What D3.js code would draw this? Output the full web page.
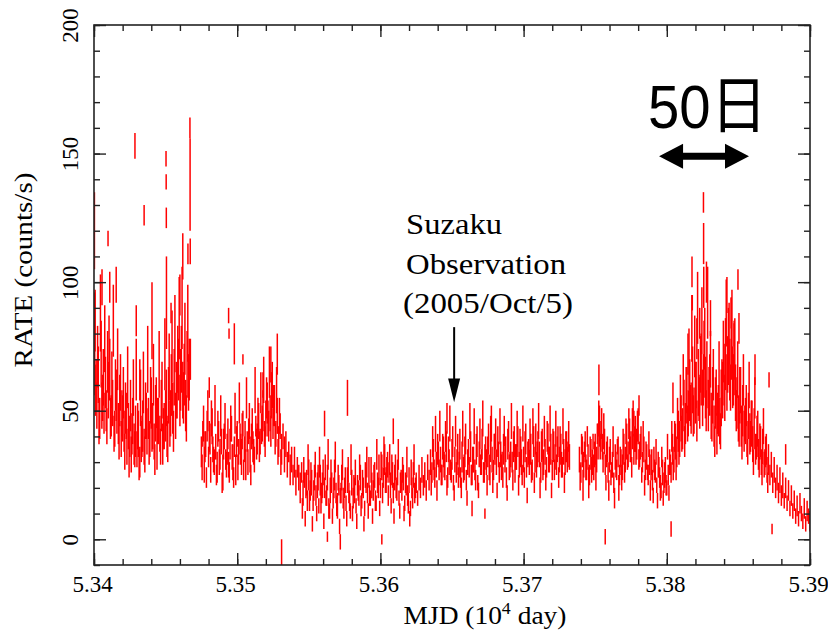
<!DOCTYPE html>
<html>
<head>
<meta charset="utf-8">
<script src="https://cdn.jsdelivr.net/npm/d3@7"></script>
<style>
  body { margin: 0; background: #fff; }
  text { font-family: 'Liberation Serif', 'Times New Roman', Times, serif; fill: #000; }
</style>
</head>
<body>
<div id="chart"></div>
<script>
// Data____________________________________________________________
// light curve, one value per day, three continuous stretches (start MJD)
const segStart = [53400, 53475, 53739];

const rateA = [68,58,52,64,47,72,55,49,61,44, 58,66,48,53,41,60,50,45,54,39,
  47,42,51,36,44,40,33,46,37,42, 35,41,30,38,44,36,50,42,47,39,
  53,44,38,49,35,46,41,52,37,44, 48,40,56,45,60,51,63,48,57,66,
  54,70,58,64,52,68,61];
const errA = [12,10,9,11,8,13,9,8,10,7, 11,12,8,9,7,10,9,8,10,7,
  9,8,10,7,9,8,7,9,8,10, 7,9,6,8,10,7,11,9,8,7,
  10,9,7,11,8,9,7,10,8,9, 10,8,11,9,12,10,11,9,10,12,
  10,13,11,12,10,13,11];

const rateB = [34,41,29,37,44,32,39,47,35,30, 36,28,42,33,38,26,40,31,35,29,
  37,43,30,36,27,41,34,39,32,45, 35,29,38,42,33,40,36,31,44,39,
  46,38,43,50,41,47,53,44,49,56, 45,52,41,48,38,44,35,40,33,37,
  29,34,27,31,25,30,22,28,24,20, 26,18,23,21,15,25,19,22,14,24,
  17,21,13,23,18,26,20,16,24,12, 19,22,15,25,18,13,21,17,24,16,
  20,14,23,18,11,22,16,19,13,21, 17,24,15,20,12,23,18,26,16,21,
  19,25,14,22,27,20,28,24,31,23, 29,26,21,27,18,24,20,26,16,22,
  19,24,14,21,17,23,12,20,25,18, 22,16,24,20,27,21,25,19,28,23,
  30,26,33,24,29,35,27,31,25,34, 28,36,24,30,27,33,22,31,26,35,
  29,24,32,27,34,23,30,28,36,25, 31,27,35,22,33,29,37,26,32,30,
  34,28,36,31,27,35,30,38,26,33, 29,35,31,24,37,28,33,30,36,27,
  32,38,29,34,25,31,36,28,33,30, 35,27,38,31,29,36,33,26,37,30,
  34,28,39,31,35,27,36,32,29,38, 31,35,28,34,30,36,33,32];
const errB = [6,5,7,5,6,4,6,7,5,5, 5,6,4,6,5,7,5,4,6,5,
  6,5,7,4,6,5,5,6,7,5, 5,6,4,5,7,5,6,5,4,6,
  7,5,6,8,5,7,8,6,7,9, 6,8,5,7,6,5,6,5,7,5,
  5,4,6,5,4,6,5,4,5,6, 4,5,3,5,4,6,4,5,3,5,
  4,5,3,6,4,5,4,3,5,4, 5,4,3,6,4,5,4,3,5,4,
  4,3,5,4,3,5,4,5,3,4, 4,5,3,4,3,5,4,6,3,5,
  4,5,3,4,6,4,5,4,6,5, 5,4,5,6,4,5,4,5,3,4,
  4,5,3,4,4,5,3,4,5,4, 4,3,5,4,5,4,5,4,5,4,
  5,4,6,4,5,6,4,5,4,6, 5,6,4,5,4,6,3,5,4,6,
  5,4,6,5,6,4,5,4,6,4, 5,4,6,3,5,4,6,4,5,5,
  6,5,6,5,4,6,5,6,4,5, 5,6,5,4,6,5,5,4,6,5,
  5,6,5,6,4,5,6,4,5,5, 6,4,6,5,5,6,5,4,6,5,
  5,4,6,5,6,4,6,5,4,6, 5,6,4,5,5,6,5,5];

const rateC = [31,26,34,29,36,27,32,25,33,30, 28,35,31,38,44,40,36,42,29,33,
  26,31,24,29,22,32,27,34,25,30, 28,35,31,38,33,40,36,43,35,41,
  37,44,33,38,30,35,27,32,25,30, 28,23,31,26,21,29,24,19,26,22,
  27,20,25,30,26,35,31,38,34,42, 39,47,43,52,45,56,49,58,51,62,
  50,57,46,61,53,66,55,70,59,64, 52,60,48,56,44,53,41,50,46,55,
  58,64,72,61,75,66,78,63,70,57, 53,47,56,44,50,42,46,39,48,41,
  45,37,43,35,40,33,38,30,36,29, 34,27,31,25,29,22,27,20,24,18,
  23,17,21,15,20,14,19,12,17,11, 15,9,13,8,14,10,7,12,6,11,
  9,7];
const errC = [5,4,6,5,6,4,5,4,6,5, 5,6,5,7,8,6,5,7,4,5,
  4,5,3,5,4,5,4,6,4,5, 5,6,5,7,5,7,6,8,6,7,
  6,7,5,6,4,5,4,5,4,5, 5,4,5,4,3,5,4,3,5,4,
  5,3,4,5,4,6,5,7,6,8, 7,9,8,10,8,11,9,12,10,13,
  9,12,8,13,10,14,11,15,12,13, 10,12,9,11,8,10,8,10,9,11,
  11,12,14,11,15,12,16,12,14,11, 10,9,11,8,10,8,9,7,9,8,
  9,7,8,6,8,6,7,5,7,5, 6,5,6,4,5,4,5,4,5,4,
  5,4,5,3,4,3,4,3,4,3, 4,3,4,3,4,3,3,4,3,4,
  3,4];

// extra half-day dwells (start MJD of each run)
const seg2Start = [53400.5, 53475.5, 53545.5, 53635.5, 53739.5, 53805.5];

const rateA2 = [82,60,71,45,88,52,63,78,50,69, 74,47,62,85,43,56,70,38,61,49,
  57,34,48,63,30,52,41,59,35,66, 44,29,55,40,61,33,48,70,37,56,
  42,64,31,53,46,68,36,58,43,72, 55,38,67,49,75,42,80,58,70,86,
  62,90,55,78,47,84,66];
const errA2 = [14,10,12,8,15,9,11,13,8,12, 13,8,11,14,7,10,12,7,11,9,
  10,7,9,12,6,10,8,11,7,12, 9,6,11,8,12,7,9,13,8,11,
  8,12,6,10,9,13,7,11,8,14, 11,8,13,9,14,8,15,11,13,16,
  12,16,10,14,9,15,12];

const rateB2 = [28,45,36,24,50,40,27,44,31,52, 25,43,30,48,22,37,46,29,41,26,
  45,32,24,49,38,28,53,35,42,27, 40,55,30,46,25,44,34,58,37,48,
  36,57,45,62,38,55,47,65,42,60, 52,39,58,34,48,30];
const errB2 = [5,7,6,4,8,6,5,7,5,8, 4,7,5,8,4,6,7,5,6,4,
  7,5,4,8,6,5,8,6,7,4, 6,8,5,7,4,7,5,9,6,7,
  6,8,7,9,6,8,7,10,6,9, 8,6,9,5,7,5];

const rateB4 = [12,27,8,22,31,15,25,6,19,29, 10,24,30,14,21,7,28,17,33,11,
  26,9,20,32,13,24,5,18,29,12, 23,8,27,15,31,10,21,26,7,19,
  28,13,22,6,25,30,11,17,27,9, 24,15,33,20,12,29,18,34,22,27,
  17,31,13,25,9,28,19,33,11,23, 27,10,22,30,14,8,26,16,31,20];
const errB4 = [4,5,3,5,6,4,5,3,4,5, 3,5,6,4,5,3,5,4,6,3,
  5,3,4,6,4,5,3,4,6,4, 5,3,5,4,6,3,4,5,3,4,
  5,4,5,3,5,6,3,4,5,3, 5,4,6,4,3,5,4,6,4,5,
  4,6,3,5,3,5,4,6,3,4, 5,3,4,6,4,3,5,4,6,4];

const rateB3 = [22,38,27,41,19,33,44,25,36,29, 40,21,35,45,26,38,18,42,30,24,
  37,20,43,28,39,16,34,46,25,31, 44,23,38,19,41,30,47,26,35,21,
  39,25,45,22,36,41,19,33,44,28, 24,42,35,18,40,29,46,23,38,32,
  43,21,37,30,45,24,39,17,34,41, 26,44,22,39,33,46,20,36,28,42,
  23,40,31,45,19,37,27,43,35,24, 38,29,44,22,36,31,40];
const errB3 = [5,6,4,7,4,5,6,4,5,5, 6,4,5,7,4,6,3,6,5,4,
  6,4,7,5,6,3,5,7,4,5, 7,4,6,3,6,5,7,4,5,4,
  6,4,7,4,5,6,3,5,7,5, 4,6,5,3,6,5,7,4,6,5,
  7,4,6,5,7,4,6,3,5,6, 4,7,4,6,5,7,4,6,5,6,
  4,6,5,7,3,6,4,7,5,4, 6,5,7,4,6,5,6];

const rateC3 = [24,37,21,35,28,40,22,36,27,38, 33,25,41,47,36,45,30,38,22,35,
  19,34,27,38,16,29,36,20,32,24, 37,26,42,30,45,35,28,47,39,33,
  44,31,36,25,40,21,33,26,37,19, 30,17,27,34,15,28,20,32,16,25,
  21,36,18,29,40,27];
const errC3 = [5,4,6,3,5,4,6,4,5,3, 5,6,4,7,5,6,4,5,3,5,
  4,5,3,6,4,5,3,5,4,5, 6,4,5,3,6,5,4,7,5,4,
  6,4,5,3,6,4,5,3,5,4, 5,3,4,5,3,4,5,4,3,5,
  4,5,3,4,6,4];

const rateC2 = [40,28,47,35,55,41,62,38,58,45, 70,52,82,48,75,60,90,55,68,85,
  62,78,50,92,58,70,45,64,38,57, 49,66,42,60,73,55,88,68,80,59,
  84,62,74,50,66,43,58,37,62,45, 52,34,60,40,47,30,55,36,43,28,
  38,25,44,30,35,22];
const errC2 = [6,5,8,6,9,7,10,6,9,7, 12,8,13,8,12,9,14,9,11,13,
  10,12,8,14,9,11,7,10,6,9, 8,11,7,10,12,9,13,11,12,9,
  13,10,12,8,11,7,9,6,10,7, 8,5,9,6,7,5,8,5,7,4,
  6,4,7,5,6,4];

// isolated flares / outliers
const spikeMJD = [53400.3,53400.8,53405.6,53409.8,53411,53415.5,53428.6,53429.5,53432,53435,
  53440.5,53450.3,53450.4,53450.5,53450.6,53453.8,53460,53462,53465.6,53467,
  53467.1,53467.2,53467.3,53480.5,53494,53494.3,53498,53504,53518,53523.5,
  53528,53531,53561,53563,53572,53577,53601,53609,53646.5,53664,
  53673,53677,53752.6,53757,53777,53780.6,53803,53804.3,53814.8,53817.6,
  53817.8,53821,53823,53825.6,53825.7,53825.8,53827.7,53830.5,53842,53845,
  53847,53849.7,53850.4,53861.6,53871.4,53873.5,53883];
const spikeRate = [120,85,98,117,98,99,153,85,62,126,
  85,148,139,125,92,88,95,110,111,160,
  138,112,70,59,87,80,76,70,60,68,
  72,-5,45,1,-1,55,0,42,47,12,
  10,42,62,1,47,52,4,55,72,104,
  92,78,84,131,115,98,100,86,95,88,
  80,101,82,66,62,4,33];
const spikeErr = [15,12,7,3,6,7,5,6,8,4,
  15,3,3,4,18,4,8,9,4,4,
  18,5,8,4,3,2,8,2,5,7,
  8,5,5,2,3,7,2,5,6,3,
  2,6,6,3,3,4,3,6,8,6,
  3,8,6,4,8,8,8,7,7,6,
  5,4,6,6,3,2,4];

// axis ticks (in 10^4 day and counts/s)
const xMajor = [5.34, 5.35, 5.36, 5.37, 5.38, 5.39];
const yMajor = [0, 50, 100, 150, 200];

// Layout__________________________________________________________
const W = 828, H = 631;
const mLeft = 94, mRight = 810, mTop = 25, mBottom = 565;
const serif = "'Liberation Serif', 'Times New Roman', Times, serif";

const xScale = d3.scaleLinear().domain([5.34, 5.39]).range([mLeft, mRight]);
const yScale = d3.scaleLinear().domain([-10, 200]).range([mBottom, mTop]);

const xMinor = d3.range(534, 539.01, 0.2).map(d => d / 100);
const yMinor = d3.range(-10, 201, 10);

const svg = d3.select('#chart')
  .append('svg')
  .attr('width', W)
  .attr('height', H);

svg.append('rect').attr('width', W).attr('height', H).attr('fill', '#fff');

svg.append('clipPath').attr('id', 'plot-clip')
  .append('rect')
  .attr('x', mLeft).attr('y', mTop)
  .attr('width', mRight - mLeft).attr('height', mBottom - mTop);

// Points___________________________________________________________
let points = [];
[rateA, rateB, rateC].forEach((rates, s) => {
  const errs = [errA, errB, errC][s];
  rates.forEach((r, i) => points.push({ mjd: segStart[s] + i, rate: r, err: errs[i] }));
});
[rateA2, rateB2, rateB4, rateB3, rateC3, rateC2].forEach((rates, s) => {
  const errs = [errA2, errB2, errB4, errB3, errC3, errC2][s];
  rates.forEach((r, i) => points.push({ mjd: seg2Start[s] + i, rate: r, err: errs[i] }));
});
spikeMJD.forEach((m, i) => points.push({ mjd: m, rate: spikeRate[i], err: spikeErr[i] }));

svg.append('g')
  .attr('clip-path', 'url(#plot-clip)')
  .selectAll('line')
  .data(points)
  .enter()
  .append('line')
  .attr('x1', d => xScale(d.mjd / 1e4))
  .attr('x2', d => xScale(d.mjd / 1e4))
  .attr('y1', d => yScale(d.rate - d.err))
  .attr('y2', d => yScale(d.rate + d.err))
  .attr('stroke', '#ff0000')
  .attr('stroke-width', 1.5);

// Axes_____________________________________________________________
const axisColor = '#222';
function styleAxis(g) {
  g.select('.domain').remove();
  g.attr('font-family', serif).attr('font-size', 23);
  g.selectAll('line').attr('stroke', axisColor).attr('stroke-width', 1.4);
}

// bottom, with labels
svg.append('g')
  .attr('transform', `translate(0, ${mBottom})`)
  .call(d3.axisBottom(xScale).tickValues(xMajor).tickSize(-12).tickSizeOuter(0)
    .tickPadding(11).tickFormat(d3.format('.2f')))
  .call(styleAxis)
  .selectAll('text')
  .attr('dx', -2)
  .attr('font-family', serif)
  .style('font-family', serif)
  .style('font-size', '23px')
  .attr('fill', '#000');

svg.append('g')
  .attr('transform', `translate(0, ${mBottom})`)
  .call(d3.axisBottom(xScale).tickValues(xMinor).tickSize(-6).tickSizeOuter(0).tickFormat(''))
  .call(styleAxis);

// top
svg.append('g')
  .attr('transform', `translate(0, ${mTop})`)
  .call(d3.axisTop(xScale).tickValues(xMajor).tickSize(-12).tickSizeOuter(0).tickFormat(''))
  .call(styleAxis);
svg.append('g')
  .attr('transform', `translate(0, ${mTop})`)
  .call(d3.axisTop(xScale).tickValues(xMinor).tickSize(-6).tickSizeOuter(0).tickFormat(''))
  .call(styleAxis);

// left, rotated labels
svg.append('g')
  .attr('transform', `translate(${mLeft}, 0)`)
  .call(d3.axisLeft(yScale).tickValues(yMajor).tickSize(-12).tickSizeOuter(0))
  .call(styleAxis)
  .selectAll('text')
  .attr('transform', 'rotate(-90)')
  .attr('x', 0)
  .attr('y', -16)
  .attr('dy', 0)
  .attr('text-anchor', 'middle')
  .attr('font-family', serif)
  .style('font-family', serif)
  .style('font-size', '23px')
  .attr('fill', '#000');
svg.append('g')
  .attr('transform', `translate(${mLeft}, 0)`)
  .call(d3.axisLeft(yScale).tickValues(yMinor).tickSize(-6).tickSizeOuter(0).tickFormat(''))
  .call(styleAxis);

// right
svg.append('g')
  .attr('transform', `translate(${mRight}, 0)`)
  .call(d3.axisRight(yScale).tickValues(yMajor).tickSize(-12).tickSizeOuter(0).tickFormat(''))
  .call(styleAxis);
svg.append('g')
  .attr('transform', `translate(${mRight}, 0)`)
  .call(d3.axisRight(yScale).tickValues(yMinor).tickSize(-6).tickSizeOuter(0).tickFormat(''))
  .call(styleAxis);

// frame
svg.append('rect')
  .attr('x', mLeft).attr('y', mTop)
  .attr('width', mRight - mLeft).attr('height', mBottom - mTop)
  .attr('fill', 'none')
  .attr('stroke', axisColor)
  .attr('stroke-width', 1.6);

// Axis titles_______________________________________________________
const xTitle = svg.append('text')
  .attr('transform', 'translate(485, 624) scale(1.12, 1)')
  .attr('text-anchor', 'middle')
  .attr('font-family', serif)
  .style('font-size', '24.5px');
xTitle.append('tspan').text('MJD (10');
xTitle.append('tspan').text('4').attr('dy', -10).style('font-size', '16px');
xTitle.append('tspan').text(' day)').attr('dy', 10);

svg.append('text')
  .attr('transform', 'translate(32, 270) rotate(-90) scale(1.12, 1)')
  .attr('text-anchor', 'middle')
  .attr('font-family', serif)
  .style('font-size', '26px')
  .text('RATE (counts/s)');

// Annotations_______________________________________________________
const obsMJD = 53651.5;
const ax = xScale(obsMJD / 1e4);

const note = ['Suzaku', 'Observation', '(2005/Oct/5)'];
const noteWidth = [96, 160, 170];
svg.selectAll('.note')
  .data(note)
  .enter()
  .append('text')
  .attr('class', 'note')
  .attr('x', (d, i) => i === 2 ? 403 : 406)
  .attr('y', (d, i) => 234 + i * 39.5)
  .attr('textLength', (d, i) => noteWidth[i])
  .attr('lengthAdjust', 'spacingAndGlyphs')
  .attr('font-family', serif)
  .style('font-size', '29px')
  .text(d => d);

svg.append('line')
  .attr('x1', ax).attr('x2', ax)
  .attr('y1', yScale(82.5)).attr('y2', yScale(60))
  .attr('stroke', '#000').attr('stroke-width', 2);
svg.append('path')
  .attr('d', `M${ax - 6},${yScale(62.5)} L${ax + 6},${yScale(62.5)} L${ax},${yScale(53.3)} Z`)
  .attr('fill', '#000');

// 50-day scale bar
svg.append('text')
  .attr('x', 648).attr('y', 128)
  .attr('textLength', 119)
  .attr('lengthAdjust', 'spacingAndGlyphs')
  .style('font-family', "'Liberation Sans', 'Noto Sans CJK JP', sans-serif")
  .style('font-size', '62px')
  .text('50日');

const bx0 = xScale(53794.6 / 1e4), bx1 = xScale(53857.4 / 1e4), by = yScale(149);
svg.append('path')
  .attr('d', `M${bx0},${by} L${bx0 + 24},${by - 12.5} L${bx0 + 24},${by - 3.5} L${bx1 - 24},${by - 3.5}
    L${bx1 - 24},${by - 12.5} L${bx1},${by} L${bx1 - 24},${by + 12.5} L${bx1 - 24},${by + 3.5}
    L${bx0 + 24},${by + 3.5} L${bx0 + 24},${by + 12.5} Z`)
  .attr('fill', '#000');
</script>
</body>
</html>
